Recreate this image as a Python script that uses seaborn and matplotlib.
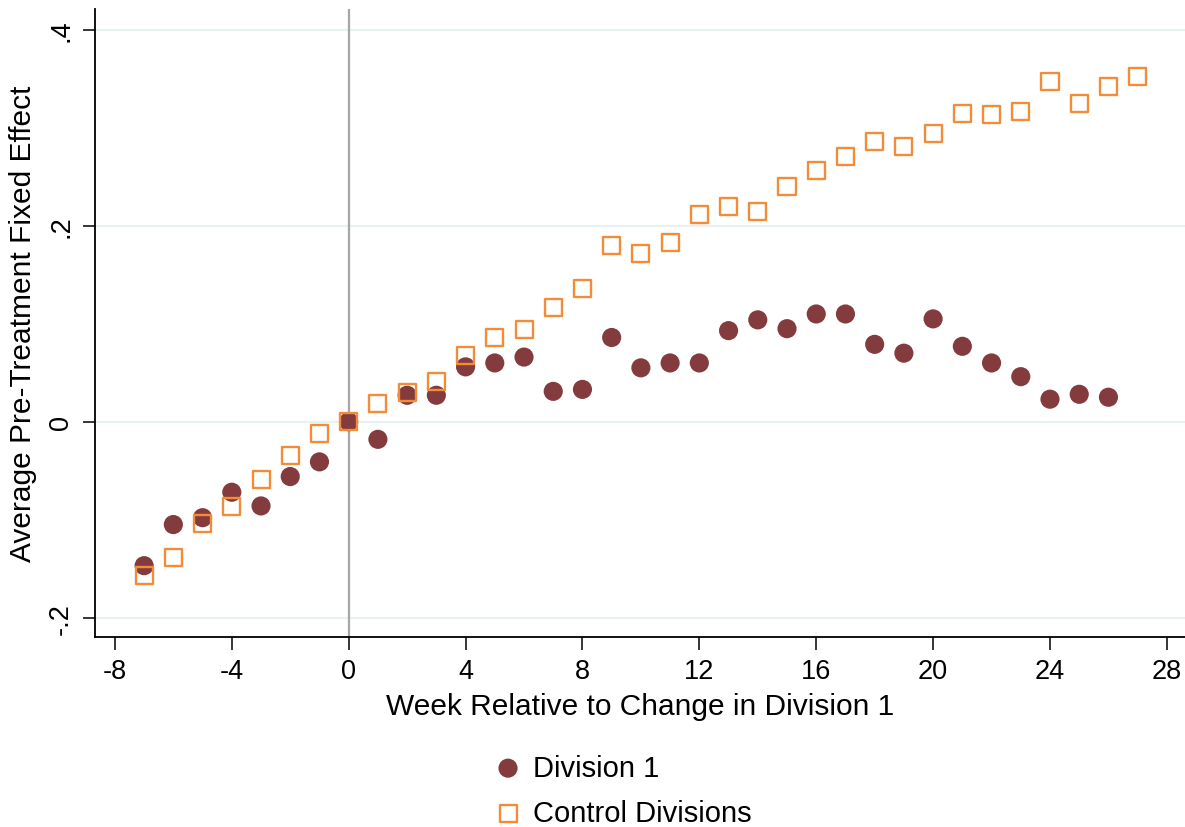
import pandas as pd
import matplotlib.pyplot as plt
import seaborn as sns

# === Data ===
weeks_div1 = list(range(-7, 27))
div1 = [-0.147, -0.105, -0.098, -0.072, -0.086, -0.056, -0.041, 0.0,
        -0.018, 0.027, 0.027, 0.056, 0.060, 0.066, 0.031, 0.033,
        0.086, 0.055, 0.060, 0.060, 0.093, 0.104, 0.095, 0.110,
        0.110, 0.079, 0.070, 0.105, 0.077, 0.060, 0.046, 0.023,
        0.028, 0.025]

weeks_ctrl = list(range(-7, 28))
ctrl = [-0.157, -0.139, -0.104, -0.087, -0.059, -0.035, -0.012, 0.0,
        0.019, 0.030, 0.041, 0.068, 0.086, 0.094, 0.117, 0.136,
        0.180, 0.172, 0.183, 0.212, 0.220, 0.215, 0.240, 0.257,
        0.271, 0.286, 0.281, 0.294, 0.315, 0.314, 0.317, 0.347,
        0.325, 0.342, 0.353]

x_ticks = list(range(-8, 29, 4))
y_ticks = [-0.2, 0, 0.2, 0.4]
y_ticklabels = ["-.2", "0", ".2", ".4"]

MAROON = "#843b3e"
ORANGE = "#f28c38"

# === Plot ===
sns.set_style("white")
plt.rcParams['font.family'] = ['Liberation Sans', 'DejaVu Sans']
plt.rcParams['text.color'] = 'black'
plt.rcParams['axes.labelcolor'] = 'black'
plt.rcParams['xtick.color'] = 'black'
plt.rcParams['ytick.color'] = 'black'

fig = plt.figure(figsize=(11.85, 8.28), dpi=100)
ax = fig.add_axes([0.0802, 0.2295, 0.9198, 0.7584])

for y in y_ticks:
    ax.axhline(y, color="#e8f0f2", lw=1.6, zorder=0)
ax.axvline(0, color="#a6a6a6", lw=1.6, zorder=1)

df1 = pd.DataFrame({"week": weeks_div1, "fe": div1})
df2 = pd.DataFrame({"week": weeks_ctrl, "fe": ctrl})

sns.scatterplot(data=df1, x="week", y="fe", ax=ax, marker="o", s=190,
                color=MAROON, edgecolor="none", label="Division 1", zorder=3)
sns.scatterplot(data=df2, x="week", y="fe", ax=ax, marker="s", s=150,
                color=ORANGE, facecolor="none", edgecolor=ORANGE,
                linewidth=1.7, label="Control Divisions", zorder=4)

ax.set_xlim(-8.68, 28.62)
ax.set_ylim(-0.2198, 0.4214)
ax.set_xticks(x_ticks)
ax.set_xticklabels([str(t) for t in x_ticks])
ax.set_yticks(y_ticks)
ax.set_yticklabels(y_ticklabels, rotation=90, va="center")

ax.tick_params(axis="both", direction="out", length=9, width=1.1,
               labelsize=19.5, color="black", labelcolor="black", pad=6)
ax.tick_params(left=True, bottom=True)

for side in ["top", "right"]:
    ax.spines[side].set_visible(False)
for side in ["left", "bottom"]:
    ax.spines[side].set_color("black")
    ax.spines[side].set_linewidth(1.3)

ax.set_xlabel("Week Relative to Change in Division 1", fontsize=21.5, labelpad=6)
ax.set_ylabel("Average Pre-Treatment Fixed Effect", fontsize=21.5, labelpad=8)

leg = ax.legend(loc="center left", bbox_to_anchor=(0.4164, 0.044),
                bbox_transform=fig.transFigure, frameon=False, fontsize=21,
                handlelength=1.0, handletextpad=0.36, labelspacing=0.6,
                borderpad=0, borderaxespad=0)

fig.savefig("out.png", dpi=100)
